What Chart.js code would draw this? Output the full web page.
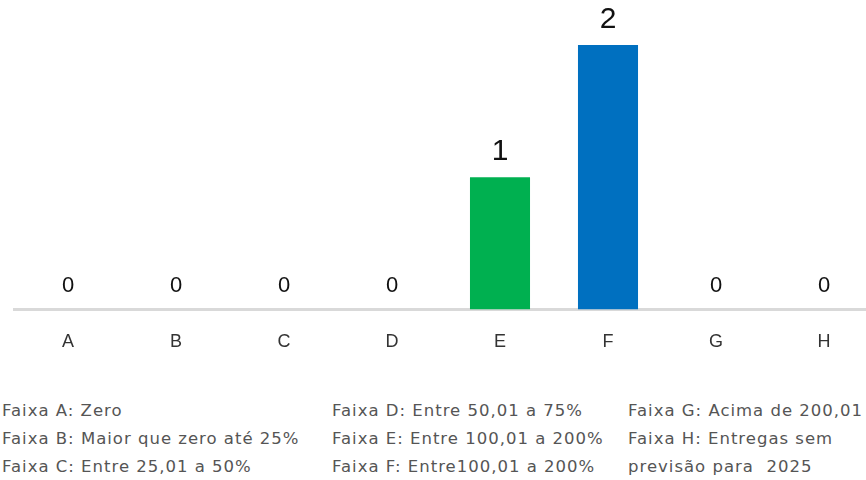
<!DOCTYPE html>
<html><head><meta charset="utf-8">
<script src="https://cdn.jsdelivr.net/npm/chart.js@4"></script>
<style>
html,body{margin:0;padding:0;background:#fff;overflow:hidden;width:866px;height:480px;}
#wrap{position:absolute;left:0;top:0;width:880px;height:375px;}
.leg{position:absolute;font-family:"DejaVu Sans",sans-serif;font-size:16.5px;letter-spacing:1px;color:#555;white-space:nowrap;line-height:28px;}
</style></head><body>
<div id="wrap"><canvas id="c"></canvas></div>
<div class="leg" style="left:2px;top:397px;">Faixa A: Zero<br>Faixa B: Maior que zero até 25%<br>Faixa C: Entre 25,01 a 50%</div>
<div class="leg" style="left:332px;top:397px;">Faixa D: Entre 50,01 a 75%<br>Faixa E: Entre 100,01 a 200%<br>Faixa F: Entre100,01 a 200%</div>
<div class="leg" style="left:628px;top:397px;">Faixa G: Acima de 200,01<br>Faixa H: Entregas sem<br>previsão para&nbsp; 2025</div>
<script>
const categories = ["A","B","C","D","E","F","G","H"];
const values = [0,0,0,0,1,2,0,0];
const barColors = ["#7f7f7f","#7f7f7f","#7f7f7f","#7f7f7f","#00b050","#0070c0","#7f7f7f","#7f7f7f"];

const labelPlugin = {
  id:'valLabels',
  afterDatasetsDraw(chart){
    const ctx = chart.ctx;
    const meta = chart.getDatasetMeta(0);
    ctx.save();
    ctx.fillStyle = '#111';
    ctx.textAlign = 'center';
    ctx.textBaseline = 'alphabetic';
    meta.data.forEach((el,i)=>{
      const sz = values[i] > 0 ? 30 : 22;
      ctx.font = sz + 'px "Liberation Sans", Arial, sans-serif';
      ctx.fillText(String(values[i]), el.x, el.y - 17);
    });
    ctx.restore();
  }
};

new Chart(document.getElementById('c'),{
  type:'bar',
  data:{labels:categories,datasets:[{data:values,backgroundColor:barColors,borderWidth:0,categoryPercentage:1,barPercentage:0.556}]},
  options:{
    responsive:true,maintainAspectRatio:false,animation:false,
    layout:{padding:{left:14,right:2,top:0,bottom:0}},
    plugins:{legend:{display:false},tooltip:{enabled:false}},
    scales:{
      y:{display:false,min:0,max:2.34},
      x:{grid:{display:false,drawTicks:false},border:{color:'#d9d9d9',width:3},
         ticks:{color:'#333',padding:22,font:{family:'"Liberation Sans", Arial, sans-serif',size:18}}}
    }
  },
  plugins:[labelPlugin]
});
</script>
</body></html>
